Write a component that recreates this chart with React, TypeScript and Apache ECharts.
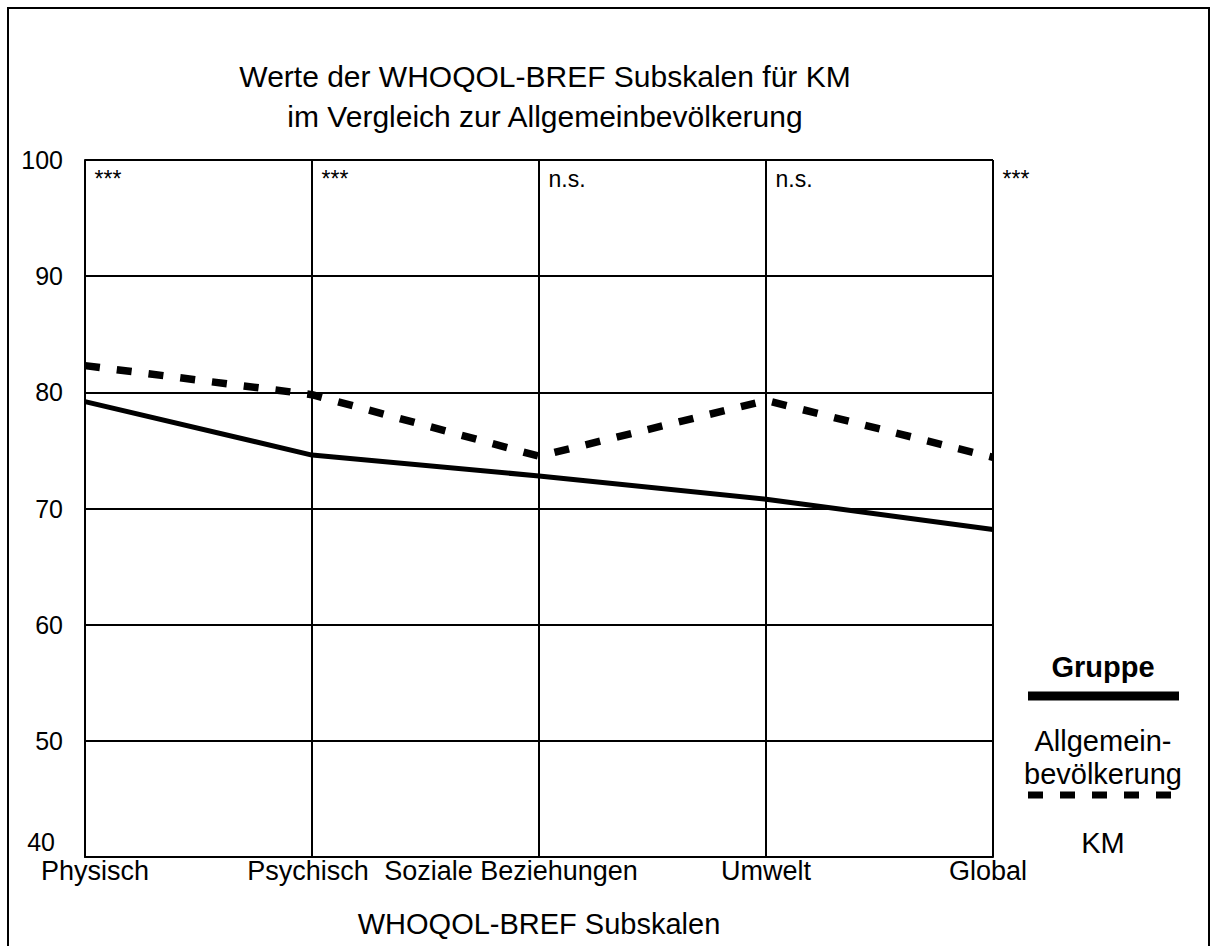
import React, { useEffect, useRef } from "react";
import * as echarts from "echarts";

const categories = ["Physisch", "Psychisch", "Soziale Beziehungen", "Umwelt", "Global"];
const allgemein = [79.2, 74.6, 72.8, 70.8, 68.2];
const km = [82.3, 79.8, 74.5, 79.3, 74.4];
const significance = ["***", "***", "n.s.", "n.s.", "***"];
const yTicks = { min: 40, max: 100, interval: 10 };

const FONT = "'Liberation Sans', Arial, Helvetica, sans-serif";

// label nudges so that long labels do not collide (padding [top, right, bottom, left])
const xLabelPadding: Record<string, number[]> = {
  Physisch: [0, 0, 0, 20],
  Psychisch: [0, 8, 0, 0],
  "Soziale Beziehungen": [0, 56, 0, 0],
  Umwelt: [0, 0, 0, 0],
  Global: [0, 10, 0, 0],
};

export default function App() {
  const ref = useRef<HTMLDivElement>(null);
  useEffect(() => {
    if (!ref.current) return;
    const chart = echarts.init(ref.current, null, { renderer: "svg" });
    const option: any = {
      animation: false,
      backgroundColor: "#ffffff",
      textStyle: { fontFamily: FONT, color: "#000" },
      title: {
        text: "Werte der WHOQOL-BREF Subskalen für KM\nim Vergleich zur Allgemeinbevölkerung",
        left: 540,
        top: 51,
        textAlign: "center",
        textStyle: {
          fontFamily: FONT,
          fontSize: 30,
          fontWeight: "normal",
          color: "#000",
          lineHeight: 40,
          align: "center",
        },
      },
      grid: { left: 85, right: 218, top: 160, bottom: 89, containLabel: false },
      xAxis: {
        type: "category",
        data: categories.map((c) => ({ value: c, textStyle: { padding: xLabelPadding[c] } })),
        boundaryGap: false,
        name: "WHOQOL-BREF Subskalen",
        nameLocation: "middle",
        nameGap: 52,
        nameTextStyle: { fontFamily: FONT, fontSize: 29, color: "#000" },
        axisLine: { show: true, lineStyle: { color: "#000", width: 2 } },
        axisTick: { show: false },
        splitLine: { show: true, lineStyle: { color: "#000", width: 2 } },
        axisLabel: { fontFamily: FONT, fontSize: 27, color: "#000", margin: 0, interval: 0 },
      },
      yAxis: {
        type: "value",
        min: yTicks.min,
        max: yTicks.max,
        interval: yTicks.interval,
        axisLine: { show: true, lineStyle: { color: "#000", width: 2 } },
        axisTick: { show: false },
        splitLine: { show: true, lineStyle: { color: "#000", width: 2 } },
        axisLabel: {
          fontFamily: FONT,
          fontSize: 25,
          color: "#000",
          margin: 22,
          formatter: (v: number) => (v === yTicks.min ? "{low|" + v + "}" : String(v)),
          rich: {
            low: { fontFamily: FONT, fontSize: 25, color: "#000", padding: [0, 8, 30, 0] },
          },
        },
      },
      series: [
        {
          name: "Allgemeinbevölkerung",
          type: "line",
          data: allgemein,
          symbol: "none",
          lineStyle: { color: "#000", width: 5 },
          z: 3,
        },
        {
          name: "KM",
          type: "line",
          data: km,
          symbol: "none",
          lineStyle: { color: "#000", width: 7.5, type: [15, 17], cap: "butt" },
          z: 4,
        },
        {
          name: "sig",
          type: "scatter",
          symbolSize: 1,
          clip: false,
          data: categories.map((c) => [c, yTicks.max]),
          itemStyle: { color: "rgba(0,0,0,0)" },
          label: {
            show: true,
            position: [10, 8],
            align: "left",
            verticalAlign: "top",
            formatter: (p: any) => significance[p.dataIndex],
            fontFamily: FONT,
            color: "#000000",
            opacity: 1,
            textBorderWidth: 0,
            fontSize: 23,
          },
          z: 5,
          silent: true,
        },
      ],
      graphic: [
        {
          type: "rect",
          shape: { x: 8, y: 8, width: 1201, height: 980 },
          style: { fill: "none", stroke: "#000", lineWidth: 2 },
          silent: true,
        },
        {
          type: "text",
          x: 1103,
          y: 667,
          style: {
            text: "Gruppe",
            fontFamily: FONT,
            fontSize: 29,
            fontWeight: "bold",
            fill: "#000",
            align: "center",
            verticalAlign: "middle",
          },
        },
        {
          type: "line",
          shape: { x1: 1028, y1: 696, x2: 1179, y2: 696 },
          style: { stroke: "#000", lineWidth: 9 },
        },
        {
          type: "text",
          x: 1103,
          y: 757,
          style: {
            text: "Allgemein-\nbevölkerung",
            fontFamily: FONT,
            fontSize: 29,
            lineHeight: 33,
            fill: "#000",
            align: "center",
            verticalAlign: "middle",
          },
        },
        {
          type: "line",
          shape: { x1: 1028, y1: 795, x2: 1175, y2: 795 },
          style: { stroke: "#000", lineWidth: 7, lineDash: [15, 17] },
        },
        {
          type: "text",
          x: 1103,
          y: 843,
          style: {
            text: "KM",
            fontFamily: FONT,
            fontSize: 29,
            fill: "#000",
            align: "center",
            verticalAlign: "middle",
          },
        },
      ],
    };
    chart.setOption(option);
    return () => chart.dispose();
  }, []);
  return (
    <div
      ref={ref}
      style={{ position: "absolute", left: 0, top: 0, width: 1211, height: 946, background: "#fff" }}
    />
  );
}
